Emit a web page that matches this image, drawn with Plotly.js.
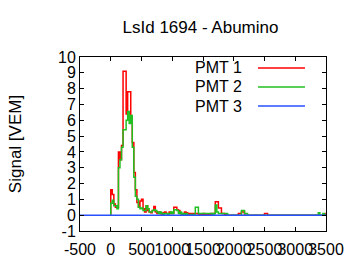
<!DOCTYPE html>
<html>
<head>
<meta charset="utf-8">
<script src="https://cdn.plot.ly/plotly-3.0.1.min.js"></script>
<style>
  html, body { margin: 0; padding: 0; background: #fff; }
  #chart { width: 360px; height: 270px; }
</style>
</head>
<body>
<div id="chart"></div>
<script>
// ---- data (25 ns bins starting at t = 0 ns) ----
const binNs = 25;
const seriesNames = ["PMT 1", "PMT 2", "PMT 3"];
const pmt1 = [
  1.6, 1.3, 0.7, 0.5, 0.5, 4.0, 3.5, 4.4, 9.1, 9.1,
  6.4, 7.8, 7.8, 6.2, 4.6, 2.7, 1.6, 0.8, 0.5, 0.9,
  1.0, 0.4, 0.2, 0.6, 0.3, 0.2, 0.15, 0.3, 0.55, 0.2,
  0.1, 0.2, 0.1, 0.05, 0.15, 0.2, 0.1, 0.1, 0.2, 0.1,
  0.1, 0.5, 0.5, 0.35, 0.3, 0.1, 0.05, 0.1, 0.2, 0.15,
  0.05, 0.1, 0.05, 0.1, 0.05, 0.1, 0.1, 0.05, 0, 0.05,
  0.1, 0, 0.05, 0, 0.05, 0.1, 0, 0.1, 0.85, 0.85,
  0.45, 0.45, 0.1, 0.1, 0.05, 0, 0, 0, 0, 0,
  0, 0, 0, 0.1, 0.1, 0.2, 0.2, 0, 0, 0,
  0, 0, 0, 0, 0, 0, 0, 0, 0, 0,
  0.1, 0.1, 0, 0, 0, 0, 0, 0, 0, 0,
  0, 0, 0, 0, 0, 0, 0, 0, 0, 0,
  0, 0, 0, 0, 0, 0, 0, 0, 0, 0,
  0, 0, 0, 0, 0, 0, 0, 0, 0, 0,
  0.1, 0.1
];
const pmt2 = [
  0.75, 0.95, 0.6, 0.6, 0.4, 3.0, 3.5, 4.3, 5.4, 5.4,
  6.0, 6.55, 5.8, 6.3, 4.3, 2.4, 1.2, 1.0, 0.5, 0.4,
  0.45, 0.3, 0.3, 0.6, 0.4, 0.2, 0.2, 0.3, 0.35, 0.3,
  0.2, 0.1, 0.2, 0.1, 0.05, 0.1, 0.1, 0.05, 0.1, 0.2,
  0.1, 0.35, 0.35, 0.3, 0.1, 0.2, 0.05, 0.1, 0.05, 0.1,
  0, 0, 0.05, 0, 0.05, 0.5, 0.5, 0.1, 0.1, 0.1,
  0.1, 0.1, 0.1, 0.1, 0.1, 0.1, 0.05, 0.1, 0.65, 0.2,
  0.1, 0.1, 0.1, 0.1, 0.1, 0.1, 0, 0, 0, 0,
  0, 0, 0, 0, 0, 0.3, 0.3, 0.1, 0.1, 0,
  0, 0, 0, 0, 0, 0, 0, 0, 0, 0,
  0, 0, 0, 0, 0, 0, 0, 0, 0, 0,
  0, 0, 0, 0, 0, 0, 0, 0, 0, 0,
  0, 0, 0, 0, 0, 0, 0, 0, 0, 0,
  0, 0, 0, 0, 0, 0.15, 0, 0, 0.1, 0,
  0, 0
];
// PMT 3 reads flat at zero over the whole trace window
const pmt3Time = [-500, 3550];
const pmt3 = [0, 0];

// tick labels (plain hyphen minus, as in the reference)
const xTickVals = [-500, 0, 500, 1000, 1500, 2000, 2500, 3000, 3500];
const xTickText = ["-500", "0", "500", "1000", "1500", "2000", "2500", "3000", "3500"];
const yTickVals = [-1, 0, 1, 2, 3, 4, 5, 6, 7, 8, 9, 10];
const yTickText = ["-1", "0", "1", "2", "3", "4", "5", "6", "7", "8", "9", "10"];

const colors = ["#ff0000", "#20c020", "#2850ff"];
const FONT = "Liberation Sans, Arial, sans-serif";

function stepXY(vals) {
  const x = [0], y = [0];
  vals.forEach((v, i) => { x.push(i * binNs); y.push(v); });
  x.push(vals.length * binNs); y.push(vals[vals.length - 1]);
  return { x, y };
}

const s1 = stepXY(pmt1), s2 = stepXY(pmt2);
const traces = [
  { x: s1.x, y: s1.y, name: seriesNames[0], type: "scatter", mode: "lines",
    line: { shape: "hv", color: colors[0], width: 1.5 } },
  { x: s2.x, y: s2.y, name: seriesNames[1], type: "scatter", mode: "lines",
    line: { shape: "hv", color: colors[1], width: 1.5 } },
  { x: pmt3Time, y: pmt3, name: seriesNames[2], type: "scatter", mode: "lines",
    line: { shape: "hv", color: colors[2], width: 1.5 } }
];

// legend drawn gnuplot-style: text on the left, sample line on the right
const legY = [0.937, 0.828, 0.718];
const annotations = seriesNames.map((n, i) => ({
  xref: "paper", yref: "paper", x: 0.667, y: legY[i],
  xanchor: "right", yanchor: "middle", text: n, showarrow: false,
  font: { family: FONT, size: 16, color: "#000" }
}));
const shapes = seriesNames.map((n, i) => ({
  type: "line", xref: "paper", yref: "paper",
  x0: 0.7236, x1: 0.9146, y0: legY[i], y1: legY[i],
  line: { color: colors[i], width: 1.5 }
}));

const axisCommon = {
  showline: true, linecolor: "#000", linewidth: 1, mirror: "allticks",
  ticks: "inside", ticklen: 4, tickcolor: "#000", tickwidth: 1,
  showgrid: false, zeroline: false, tickangle: 0, tickmode: "array",
  tickfont: { family: FONT, size: 16, color: "#000" }
};

const layout = {
  width: 360, height: 270,
  margin: { l: 80, r: 34, t: 57, b: 39 },
  paper_bgcolor: "#fff", plot_bgcolor: "#fff",
  showlegend: false,
  title: { text: "LsId 1694 - Abumino", x: 0.557, xref: "container", xanchor: "center",
           y: 0.9, yref: "container", yanchor: "middle",
           font: { family: FONT, size: 17, color: "#000" } },
  xaxis: Object.assign({}, axisCommon, { range: [-500, 3500],
    tickvals: xTickVals, ticktext: xTickText, ticklabelstandoff: 4 }),
  yaxis: Object.assign({}, axisCommon, { range: [-1, 10],
    tickvals: yTickVals, ticktext: yTickText,
    title: { text: "Signal [VEM]", standoff: 32, font: { family: FONT, size: 17, color: "#000" } } }),
  annotations: annotations,
  shapes: shapes
};

Plotly.newPlot("chart", traces, layout, { staticPlot: true, displayModeBar: false });
</script>
</body>
</html>
